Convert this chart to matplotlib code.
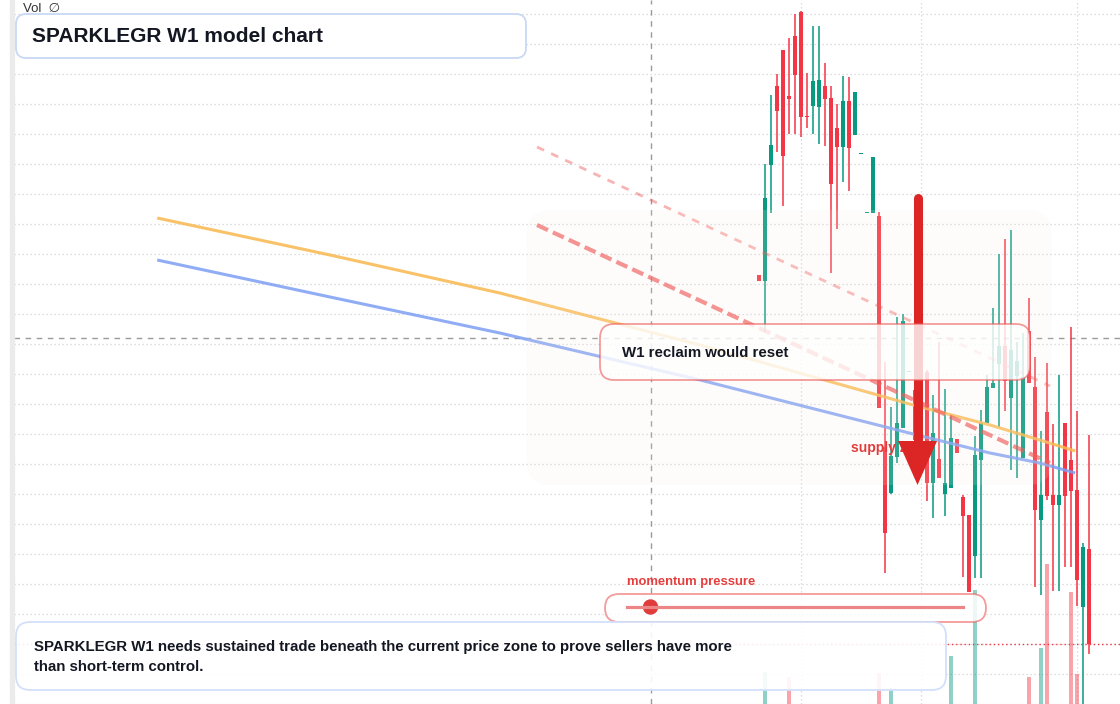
import numpy as np
import matplotlib
matplotlib.use('Agg')
import matplotlib.pyplot as plt
from matplotlib.patches import FancyBboxPatch, Rectangle, Circle
from matplotlib.transforms import Affine2D

plt.rcParams['font.family'] = ['Liberation Sans', 'DejaVu Sans']

# weekly candles, oldest first
opens = [7.25, 7.19, 8.35, 9.14, 9.50, 9.04, 9.64, 9.88, 8.84, 8.94,
         8.93, 9.14, 9.02, 8.72, 8.53, 8.99, 8.65, 8.46, 7.87, 7.87,
         7.84, 5.53, 5.07, 5.43, 5.72, 6.28, 5.60, 5.79, 6.28, 5.17,
         5.41, 5.06, 5.12, 5.61, 5.03, 4.85, 4.44, 5.40, 5.77, 6.12,
         6.36, 6.54, 6.02, 6.24, 5.42, 6.69, 6.13, 4.80, 5.88, 5.05,
         4.95, 5.77, 5.40, 5.10, 3.93, 4.51]
highs = [7.25, 8.36, 9.05, 9.26, 9.50, 9.62, 9.86, 9.89, 9.27, 9.74,
         9.74, 9.37, 9.14, 8.96, 9.24, 9.23, 9.08, 8.46, 7.87, 8.43,
         7.88, 6.38, 5.93, 6.83, 6.86, 6.28, 6.30, 6.40, 6.30, 6.05,
         6.58, 6.11, 5.85, 5.61, 5.05, 4.85, 5.64, 5.90, 6.25, 6.92,
         7.46, 7.61, 7.70, 6.58, 6.67, 7.02, 6.43, 5.69, 6.37, 5.76,
         6.25, 5.77, 6.73, 5.89, 4.57, 5.65]
lows = [7.19, 6.68, 7.87, 8.48, 7.94, 8.66, 8.66, 8.63, 8.72, 8.66,
        8.56, 8.54, 7.27, 7.71, 8.18, 8.09, 8.65, 8.46, 7.87, 7.87,
        5.92, 4.27, 5.06, 5.37, 5.72, 6.28, 5.40, 5.60, 4.99, 4.82,
        5.22, 4.84, 5.12, 5.47, 4.23, 4.08, 4.22, 4.22, 5.77, 6.12,
        5.73, 5.89, 5.30, 5.22, 5.42, 6.17, 4.13, 4.05, 5.00, 4.09,
        4.09, 4.33, 4.33, 3.94, 2.90, 3.46]
closes = [7.19, 8.02, 8.55, 8.89, 8.44, 9.01, 9.25, 8.83, 8.83, 9.19,
          9.20, 9.01, 8.16, 8.53, 8.99, 8.52, 9.08, 8.46, 7.87, 8.43,
          5.92, 4.67, 5.44, 5.77, 6.79, 6.28, 6.10, 6.28, 5.17, 5.67,
          5.22, 5.17, 5.62, 5.47, 4.84, 4.08, 5.45, 5.77, 6.13, 6.17,
          6.54, 6.19, 6.50, 6.39, 6.23, 6.17, 4.90, 5.05, 5.04, 4.95,
          5.05, 5.04, 5.09, 4.20, 4.53, 3.56]
volumes = [22, 72, 35, 30, 38, 67, 33, 36, 18, 25,
           28, 20, 37, 26, 24, 29, 21, 12, 14, 31,
           71, 38, 56, 34, 36, 15, 27, 30, 35, 32,
           26, 23, 88, 19, 33, 37, 154, 36, 29, 17,
           34, 31, 38, 24, 35, 67, 39, 96, 180, 37,
           33, 36, 152, 70, 38, 36]

# model curves (x in bars from the first candle)
curve_x = [-100.3, -71.5, -43.2, -9.8, 25.7, 38.5, 46.8, 52.7]
fast_curve = [7.82, 7.45, 7.07, 6.55, 5.95, 5.75, 5.60, 5.49]
slow_curve = [7.40, 7.03, 6.67, 6.20, 5.66, 5.47, 5.37, 5.27]

channel_x = [-37.0, 48.5]
channel_upper = [8.53, 6.14]
channel_lower = [7.75, 5.37]

crosshair = (-18.0, 6.62)
momentum_pressure = 0.07

GREEN = '#089981'
RED = '#f23645'

W, H = 1120, 704
fig = plt.figure(figsize=(W / 100, H / 100), dpi=100)
ax = fig.add_axes([14 / W, 0, 1 - 14 / W, 1])
ax.set_xlim((14 - 759) / 6, (W - 759) / 6)
ax.set_ylim(10 - H / 100, 10)
for s in ax.spines.values():
    s.set_visible(False)
ax.set_yticks(np.arange(2.96, 9.9, 0.3))
ax.set_xticks([7, 27, 53])
ax.tick_params(length=0, labelleft=False, labelbottom=False)
ax.grid(True, color='#d2d2d2', lw=0.9, ls=(0, (1, 2.2)))
ax.set_axisbelow(True)

o = np.array(opens)
c = np.array(closes)
x = np.arange(len(o))
up = c >= o
cols = np.where(up, GREEN, RED)

ax.axvline(crosshair[0], color='#9a9a9a', lw=1, ls=(0, (4, 4)), zorder=1)
ax.axhline(crosshair[1], color='#9a9a9a', lw=1, ls=(0, (4, 4)), zorder=1)
ax.axhline(closes[-1], color=RED, lw=1, ls=(0, (1, 2)), zorder=1)

ax.vlines(x, lows, highs, colors=cols, lw=1.1, zorder=2)
body_lo = np.minimum(o, c)
body_h = np.maximum(np.abs(c - o), 0.012)
ax.bar(x, body_h, bottom=body_lo, width=0.82, color=cols, zorder=3)

ax.plot(curve_x, fast_curve, color='#f8b84e', lw=2.2, alpha=0.85, zorder=4,
        solid_capstyle='butt')
ax.plot(curve_x, slow_curve, color='#7d9ef3', lw=2.2, alpha=0.85, zorder=4,
        solid_capstyle='butt')
ax.plot(channel_x, channel_upper, color='#ef4444', lw=2.0, alpha=0.4,
        ls=(0, (2.8, 2.8)), zorder=4)
ax.plot(channel_x, channel_lower, color='#ef4444', lw=3, alpha=0.65,
        ls=(0, (2.9, 1.3)), zorder=4)

# supply zone
zone = FancyBboxPatch((-38.7, 5.15), 87.5, 2.75,
                      boxstyle='round,pad=0,rounding_size=4',
                      mutation_aspect=0.06, facecolor=(0.98, 0.92, 0.88, 0.15),
                      edgecolor='none', zorder=5)
ax.add_patch(zone)
ax.text(15.33, 5.52, 'supply zone', color='#e23b3b', fontsize=10,
        fontweight='bold', va='center', ha='left', zorder=6)

# arrow
ax.plot([26.42, 26.42], [8.02, 5.6], color='#dc2626', lw=6.5,
        solid_capstyle='round', zorder=7)
ax.fill([23.17, 29.67, 26.42], [5.59, 5.59, 5.15], color='#dc2626',
        zorder=7, lw=0)

# volume
ax2 = ax.twinx()
ax2.set_ylim(40, 744)
ax2.axis('off')
vcols = np.where(up, GREEN, RED)
ax2.bar(x, volumes, width=0.82, color=vcols, alpha=0.45)

# overlay panels in pixel space
pxT = Affine2D().scale(1 / W, -1 / H).translate(0, 1) + fig.transFigure


def panel(x0, y0, w, h, r, face, edge, lw=1.3):
    p = FancyBboxPatch((x0, y0), w, h, boxstyle=f'round,pad=0,rounding_size={r}',
                       transform=pxT, facecolor=face, edgecolor=edge, lw=lw)
    fig.add_artist(p)


fig.add_artist(Rectangle((10, 0), 4, H, transform=pxT, color='#ebebeb'))

DARK = '#131722'
panel(16, 14, 510, 44, 10, (1, 1, 1, 0.97), '#c9d8f5')
fig.text(23, 8.5, 'Vol  \u2205', transform=pxT, fontsize=9.5, color='#333333',
         va='center', ha='left')
fig.text(32, 36, 'SPARKLEGR W1 model chart', transform=pxT, fontsize=15,
         fontweight='bold', color=DARK, va='center', ha='left')

panel(600, 324, 430, 56, 14, (1, 1, 1, 0.8), (0.93, 0.35, 0.35, 0.6))
fig.text(622, 353, 'W1 reclaim would reset', transform=pxT, fontsize=10.8,
         fontweight='bold', color=DARK, va='center', ha='left')

panel(605, 594, 381, 28, 14, (1, 1, 1, 0.85), (0.93, 0.35, 0.35, 0.6))
fig.text(627, 582, 'momentum pressure', transform=pxT, fontsize=9.4,
         fontweight='bold', color='#e53e3e', va='center', ha='left')
sl0, sl1 = 627, 963
fig.add_artist(plt.Line2D([sl0, sl1], [607, 607], transform=pxT, lw=2.3,
                          color='#ec8585'))
knob = sl0 + momentum_pressure * (sl1 - sl0)
fig.add_artist(Circle((knob, 607), 7, transform=pxT, color='#e03c3c'))

panel(16, 622, 930, 68, 14, (1, 1, 1, 0.9), '#d3e0fa')
fig.text(34, 647, 'SPARKLEGR W1 needs sustained trade beneath the current price zone to prove sellers have more',
         transform=pxT, fontsize=10.8, fontweight='bold', color=DARK,
         va='center', ha='left')
fig.text(34, 667, 'than short-term control.', transform=pxT, fontsize=10.8,
         fontweight='bold', color=DARK, va='center', ha='left')

fig.savefig('out.png', dpi=100)
